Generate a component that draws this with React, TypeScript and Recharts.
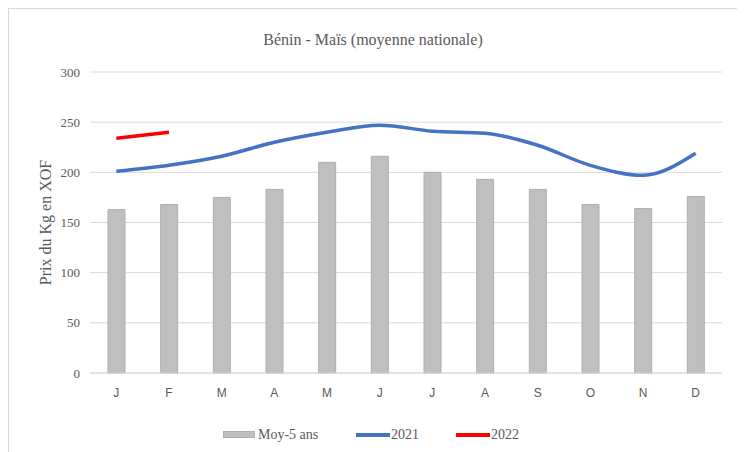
import React from 'react';
import { ComposedChart, Bar, Line, XAxis, YAxis, CartesianGrid } from 'recharts';

const months = ['J', 'F', 'M', 'A', 'M', 'J', 'J', 'A', 'S', 'O', 'N', 'D'];
const moy5 = [163, 168, 175, 183, 210, 216, 200, 193, 183, 168, 164, 176];
const y2021 = [201, 207, 216, 230, 240, 247, 241, 239, 227, 207, 197, 219];
const y2022: (number | null)[] = [234, 240, null, null, null, null, null, null, null, null, null, null];
const yTicks = [0, 50, 100, 150, 200, 250, 300];

const data = months.map((m, i) => ({ m, moy: moy5[i], a2021: y2021[i], a2022: y2022[i] }));

const GREY = '#595959';

export default function App() {
  return (
    <div style={{ position: 'relative', width: 728, height: 445, border: '1px solid #D9D9D9', background: '#fff' }}>
      <div style={{ position: 'absolute', top: 22, left: 0, width: 728, textAlign: 'center', fontFamily: '"Liberation Serif", serif', fontSize: 16, color: GREY }}>
        Bénin - Maïs (moyenne nationale)
      </div>
      <ComposedChart width={728} height={445} data={data} margin={{ top: 63, right: 15, bottom: 51, left: 0 }}>
        <CartesianGrid horizontal vertical={false} stroke="#D9D9D9" />
        <XAxis
          dataKey="m"
          height={30}
          tickLine={false}
          tickSize={0}
          tickMargin={15}
          axisLine={{ stroke: '#D9D9D9' }}
          tick={{ fill: GREY, fontSize: 12, fontFamily: '"Liberation Sans", sans-serif' }}
          interval={0}
        />
        <YAxis
          width={81}
          domain={[0, 300]}
          ticks={yTicks}
          tickLine={false}
          axisLine={false}
          tickSize={0}
          tickMargin={10}
          tick={{ fill: GREY, fontSize: 13, fontFamily: '"Liberation Serif", serif' }}
          label={(props: any) => {
            const vb = props.viewBox || { x: 0, y: 63, width: 81, height: 301 };
            const cx = vb.x + 36;
            const cy = vb.y + vb.height / 2;
            return (
              <text x={cx} y={cy} transform={`rotate(-90 ${cx} ${cy})`} textAnchor="middle" dominantBaseline="central" fill={GREY} fontSize={16} fontFamily='"Liberation Serif", serif'>
                Prix du Kg en XOF
              </text>
            );
          }}
        />
        <Bar dataKey="moy" barSize={17} fill="#BFBFBF" stroke="#AFAFAF" strokeWidth={1} isAnimationActive={false} />
        <Line dataKey="a2021" type="monotone" stroke="#4472C4" strokeWidth={3.5} dot={false} isAnimationActive={false} />
        <Line dataKey="a2022" type="monotone" stroke="#FF0000" strokeWidth={3.5} dot={false} isAnimationActive={false} connectNulls={false} />
      </ComposedChart>
      <div style={{ position: 'absolute', top: 416, left: 0, width: 728, height: 20, fontFamily: '"Liberation Serif", serif', fontSize: 14, color: GREY }}>
        <div style={{ position: 'absolute', left: 214, top: 6, width: 32, height: 7, background: '#BFBFBF', border: '1px solid #AFAFAF', boxSizing: 'border-box' }} />
        <div style={{ position: 'absolute', left: 249, top: 0, lineHeight: '20px' }}>Moy-5 ans</div>
        <div style={{ position: 'absolute', left: 347, top: 8, width: 34, height: 4, background: '#4472C4' }} />
        <div style={{ position: 'absolute', left: 382, top: 0, lineHeight: '20px' }}>2021</div>
        <div style={{ position: 'absolute', left: 447, top: 8, width: 34, height: 4, background: '#FF0000' }} />
        <div style={{ position: 'absolute', left: 482, top: 0, lineHeight: '20px' }}>2022</div>
      </div>
    </div>
  );
}
